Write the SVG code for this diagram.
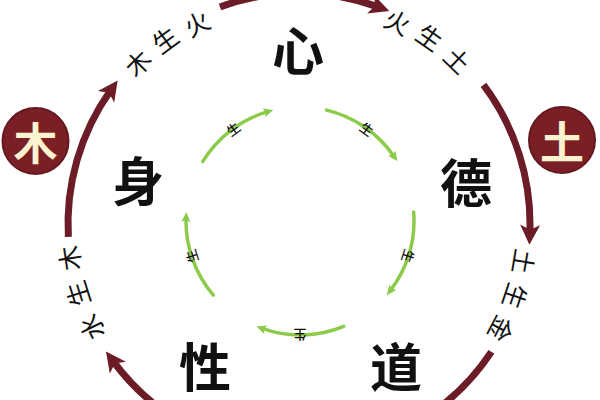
<svg xmlns="http://www.w3.org/2000/svg" width="600" height="400" viewBox="0 0 600 400">
<style>
.big{font-family:"Noto Sans CJK SC","Noto Sans",sans-serif;font-size:52px;font-weight:700;fill:#111;text-anchor:middle;dominant-baseline:central}
.lbl{font-family:"Noto Sans CJK SC","Noto Sans",sans-serif;font-size:25px;font-weight:400;fill:#111;text-anchor:middle;dominant-baseline:central}
.sm{font-family:"Noto Sans CJK SC","Noto Sans",sans-serif;font-size:13px;font-weight:500;fill:#111;text-anchor:middle;dominant-baseline:central}
.badge{fill:#7a1f25;stroke:#651820;stroke-width:2}
.bt{font-family:"Noto Sans CJK SC","Noto Sans",sans-serif;font-size:44px;font-weight:700;fill:#fbf2cf;text-anchor:middle;dominant-baseline:central}
.outer{fill:none;stroke:#6b1c26;stroke-width:7}
.inner{fill:none;stroke:#8ccb4a;stroke-width:3.5;stroke-linecap:round}
</style>
<defs>
<marker id="ah" markerUnits="userSpaceOnUse" viewBox="-10 -12 24 24" refX="0" refY="0" markerWidth="24" markerHeight="24" orient="auto">
<path d="M12,0 L-8,-10 L-3,0 L-8,10 Z" fill="#6b1c26"/>
</marker>
<marker id="ag" markerUnits="userSpaceOnUse" viewBox="-6 -6 14 12" refX="0" refY="0" markerWidth="14" markerHeight="12" orient="auto">
<path d="M6,0 L-4,-4.5 L-2,0 L-4,4.5 Z" fill="#8ccb4a"/>
</marker>
</defs>
<rect width="600" height="400" fill="#ffffff"/>
<g id="connectors">
<path class="outer" d="M68.36,236.89 A231,231 0 0 1 110.70,90.19" marker-end="url(#ah)"/>
<path class="outer" d="M219.99,6.93 A231,231 0 0 1 378.01,6.93" marker-end="url(#ah)"/>
<path class="outer" d="M483.49,84.98 A231,231 0 0 1 529.83,232.87" marker-end="url(#ah)"/>
<path class="outer" d="M491.40,351.83 A231,231 0 0 1 414.5,424.05"/>
<path class="outer" d="M183.5,424.05 A231,231 0 0 1 113.11,361.13" marker-end="url(#ah)"/>
<path class="inner" d="M202.80,161.43 A114,114 0 0 1 267.62,111.69" marker-end="url(#ag)"/>
<path class="inner" d="M326.61,110.15 A114,114 0 0 1 393.95,156.43" marker-end="url(#ag)"/>
<path class="inner" d="M413.65,212.06 A114,114 0 0 1 390.44,290.40" marker-end="url(#ag)"/>
<path class="inner" d="M343.63,326.32 A114,114 0 0 1 261.95,328.46" marker-end="url(#ag)"/>
<path class="inner" d="M213.31,295.04 A114,114 0 0 1 186.04,218.02" marker-end="url(#ag)"/>
<g id="outer-labels">
<text class="lbl" transform="translate(137.07,62.07) rotate(-45)">木</text>
<text class="lbl" transform="translate(164.40,38.73) rotate(-36)">生</text>
<text class="lbl" transform="translate(196.4,22.6) rotate(-27)">火</text>
<text class="lbl" transform="translate(398.1,20.9) rotate(26)">火</text>
<text class="lbl" transform="translate(430.35,36.41) rotate(35)">生</text>
<text class="lbl" transform="translate(458.08,59.27) rotate(44)">土</text>
<text class="lbl" transform="translate(524.86,261.80) rotate(99.5)">土</text>
<text class="lbl" transform="translate(516.17,296.66) rotate(108.5)">生</text>
<text class="lbl" transform="translate(502.13,329.74) rotate(117.5)">金</text>
<text class="lbl" transform="translate(90.48,327.96) rotate(243.5)">水</text>
<text class="lbl" transform="translate(76.78,294.07) rotate(252.5)">生</text>
<text class="lbl" transform="translate(68.56,258.44) rotate(261.5)">木</text>
</g>
<g id="inner-labels">
<text class="sm" transform="translate(232.99,128.77) rotate(-36)">生</text>
<text class="sm" transform="translate(367.01,128.77) rotate(36)">生</text>
<text class="sm" transform="translate(408.42,256.23) rotate(108)">生</text>
<text class="sm" transform="translate(300,335) rotate(180)">生</text>
<text class="sm" transform="translate(191.58,256.23) rotate(252)">生</text>
</g>
</g>
<g id="node-xin"><text class="big" x="298" y="48">心</text></g>
<g id="node-shen"><text class="big" x="138" y="178">身</text></g>
<g id="node-de"><text class="big" x="466" y="180">德</text></g>
<g id="node-xing"><text class="big" x="205" y="364">性</text></g>
<g id="node-dao"><text class="big" x="396" y="364">道</text></g>
<g id="badge-mu"><circle class="badge" cx="35.5" cy="141" r="33"/><text class="bt" x="35.5" y="141">木</text></g>
<g id="badge-tu"><circle class="badge" cx="562" cy="140" r="33"/><text class="bt" x="562" y="140">土</text></g>
</svg>
